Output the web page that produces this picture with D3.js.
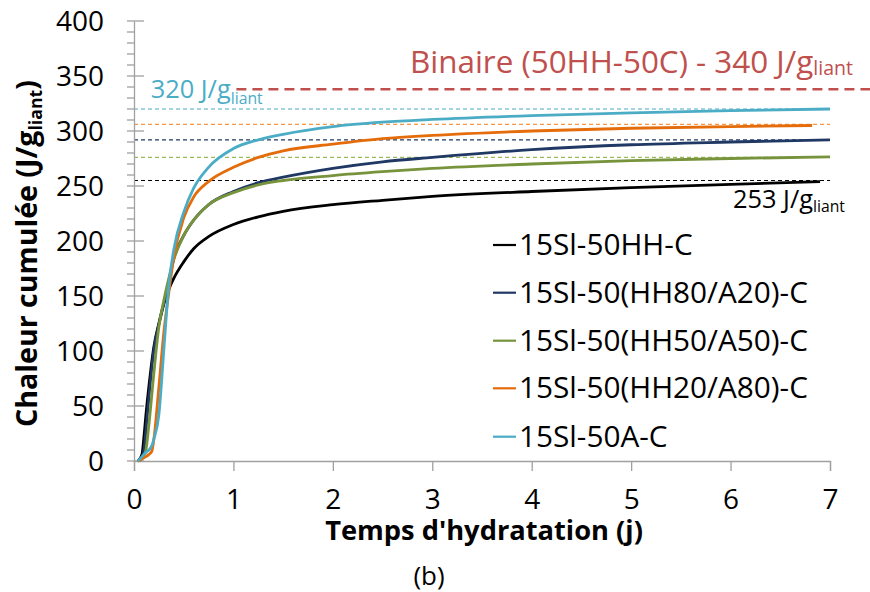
<!DOCTYPE html>
<html><head><meta charset="utf-8">
<script src="https://cdn.jsdelivr.net/npm/d3@7/dist/d3.min.js"></script>
<style>html,body{margin:0;padding:0;background:#fff;}svg{display:block;}</style>
</head><body>
<svg id="chart" width="870" height="592"></svg>
<script>
// ---------- DATA ----------
const seriesNames = ["15Sl-50HH-C","15Sl-50(HH80/A20)-C","15Sl-50(HH50/A50)-C","15Sl-50(HH20/A80)-C","15Sl-50A-C"];
const seriesColors = ["#000000","#1f3864","#77933c","#e46c0a","#4bacc6"];
const refColors = ["#000000","#1f3864","#9bbb59","#f79646","#4bacc6"];
const timeBlack  = [0.04,0.08,0.1,0.12,0.15,0.2,0.25,0.3,0.35,0.4,0.5,0.6,0.75,1.0,1.25,1.5,2,2.5,3,4,5,6,6.9];
const heatBlack  = [0,6,22,42,68,104,125,143,156,166,181,193,204,215,222,227,233,237,240.5,245,248.5,251.5,254];
const timeNavy   = [0.04,0.08,0.1,0.12,0.15,0.2,0.25,0.3,0.35,0.4,0.5,0.6,0.75,1.0,1.25,1.5,2,2.5,3,4,5,6,7.0];
const heatNavy   = [0,3,10,28,58,101,124,143,163,184,205,219,233,245,253,258,266,272,276,283,287.5,290,292];
const timeGreen  = [0.04,0.08,0.1,0.12,0.15,0.2,0.25,0.3,0.35,0.4,0.5,0.6,0.75,1.0,1.25,1.5,2,2.5,3,4,5,6,7.0];
const heatGreen  = [0,2,5,10,33,80,122,146,166,183,205,219,233,244,251,255,259.5,263,266,270,273,275,276.5];
const timeOrange = [0.04,0.08,0.1,0.12,0.15,0.18,0.2,0.25,0.3,0.35,0.4,0.5,0.6,0.75,1.0,1.25,1.5,2,2.5,3,4,5,6,6.82];
const heatOrange = [0,2,3,4,6,9,20,67,117,153,185,221,240,254,267,276,282,288,293,296,300,302.5,304,305];
const timeBlue   = [0.04,0.08,0.1,0.12,0.15,0.18,0.2,0.25,0.3,0.35,0.4,0.5,0.6,0.75,1.0,1.25,1.5,2,2.5,3,4,5,6,7.0];
const heatBlue   = [0,4,6,8,10,14,20,42,101,160,192,226,248,267,284,292,297,304,308,310.5,314,316.5,318.5,320];
const refValues  = [255,292,276,306,320];   // dashed plateau lines
const binaryRef  = 338;                      // Binaire (50HH-50C)
const xTicks = [0,1,2,3,4,5,6,7];
const yTicks = [0,50,100,150,200,250,300,350,400];

const seriesTimes = [timeBlack,timeNavy,timeGreen,timeOrange,timeBlue];
const seriesHeats = [heatBlack,heatNavy,heatGreen,heatOrange,heatBlue];

// ---------- LAYOUT ----------
const FONT = "'Open Sans', 'Noto Sans', sans-serif";
const svg = d3.select("#chart").style("font-family", FONT);
const x = d3.scaleLinear().domain([0,7]).range([134,830]);
const y = d3.scaleLinear().domain([0,400]).range([461,21]);
const axisCol = "#a0a0a0";

function fit(sel, w){
  const l = sel.node().getComputedTextLength();
  const fs = parseFloat(sel.attr("font-size"));
  sel.attr("font-size", fs*w/l);
  return fs*w/l;
}

// reference dashed lines
const gRef = svg.append("g");
refValues.forEach((v,i)=>{
  gRef.append("line").attr("x1",x(0)).attr("x2",x(7)).attr("y1",y(v)).attr("y2",y(v))
    .attr("stroke",refColors[i]).attr("stroke-width",1.2).attr("stroke-dasharray","4,3");
});
gRef.append("line").attr("x1",x(1.03)).attr("x2",870).attr("y1",y(binaryRef)).attr("y2",y(binaryRef))
  .attr("stroke","#c0504d").attr("stroke-width",2.5).attr("stroke-dasharray","10,6");

// axes
const gx = svg.append("g").attr("transform",`translate(0,${y(0)})`)
  .call(d3.axisBottom(x).tickValues(xTicks).tickSize(10).tickFormat(d3.format("d")));
gx.select(".domain").attr("stroke",axisCol).attr("stroke-width",1.3);
gx.selectAll(".tick line").attr("stroke",axisCol).attr("stroke-width",1.3);
gx.selectAll(".tick text").attr("font-size",28).attr("font-family",FONT).attr("fill","#000")
  .attr("y",48).attr("dy",0);

const gy = svg.append("g").attr("transform",`translate(${x(0)},0)`)
  .call(d3.axisLeft(y).tickValues(yTicks).tickSize(0).tickPadding(30).tickFormat(d3.format("d")));
gy.select(".domain").attr("stroke",axisCol).attr("stroke-width",1.3);
gy.selectAll(".tick text").attr("font-size",28).attr("font-family",FONT).attr("fill","#000")
  .attr("dy","0.35em");
// minor ticks every 10, majors cross the axis
const minor = d3.range(0,401,10);
svg.append("g").selectAll("line").data(minor).join("line")
  .attr("x1",x(0)-7).attr("x2",d=> d%50===0 ? x(0)+10 : x(0))
  .attr("y1",d=>y(d)).attr("y2",d=>y(d))
  .attr("stroke",axisCol).attr("stroke-width",1.3);

// curves
const line = d3.line().x(d=>x(d[0])).y(d=>y(d[1])).curve(d3.curveMonotoneX);
const gLines = svg.append("g");
seriesNames.forEach((n,i)=>{
  const pts = seriesTimes[i].map((t,j)=>[t,seriesHeats[i][j]]);
  gLines.append("path").attr("d",line(pts)).attr("fill","none")
    .attr("stroke",seriesColors[i]).attr("stroke-width",2.8).attr("stroke-linejoin","round");
});

// legend
const legY = [245,292.7,340.7,388.3,436.7];
const gLeg = svg.append("g");
const legTexts = [];
seriesNames.forEach((n,i)=>{
  gLeg.append("line").attr("x1",493).attr("x2",516).attr("y1",legY[i]).attr("y2",legY[i])
    .attr("stroke",seriesColors[i]).attr("stroke-width",2.2);
  legTexts.push(gLeg.append("text").attr("x",519).attr("y",legY[i]+10).attr("font-size",28).attr("fill","#000").text(n));
});
const legFs = fit(legTexts[1], 289);
legTexts.forEach(t=>t.attr("font-size",legFs));

// annotations
function subText(xp, yp, fs, color, main, sub, subDy, weight){
  const t = svg.append("text").attr("x",xp).attr("y",yp).attr("font-size",fs).attr("fill",color)
    .attr("font-weight",weight||"normal");
  t.append("tspan").text(main);
  t.append("tspan").attr("font-size","0.62em").attr("dy",subDy).text(sub);
  return t;
}
const a1 = subText(150.7, 98.3, 22, "#4bacc6", "320 J/g", "liant", "0.35em");
fit(a1, 112);
const a2 = subText(410, 73, 31, "#c0504d", "Binaire (50HH-50C) - 340 J/g", "liant", "0.1em");
fit(a2, 443);
const a3 = subText(733, 208.3, 23, "#000", "253 J/g", "liant", "0.25em");
fit(a3, 112);

// axis titles
const xt = svg.append("text").attr("x",484).attr("y",540).attr("text-anchor","middle")
  .attr("font-size",26).attr("font-weight","bold").attr("fill","#000").text("Temps d'hydratation (j)");
fit(xt, 318);
const yt = svg.append("text").attr("transform","translate(37,253.5) rotate(-90)").attr("text-anchor","middle")
  .attr("font-size",28).attr("font-weight","bold").attr("fill","#000");
yt.append("tspan").text("Chaleur cumulée (J/g");
yt.append("tspan").attr("font-size","0.62em").attr("dy","0.3em").text("liant");
yt.append("tspan").attr("dy","-0.18em").text(")");
fit(yt, 347);

svg.append("text").attr("x",429).attr("y",585).attr("text-anchor","middle")
  .attr("font-size",26).attr("fill","#000").text("(b)");
</script>
</body></html>
